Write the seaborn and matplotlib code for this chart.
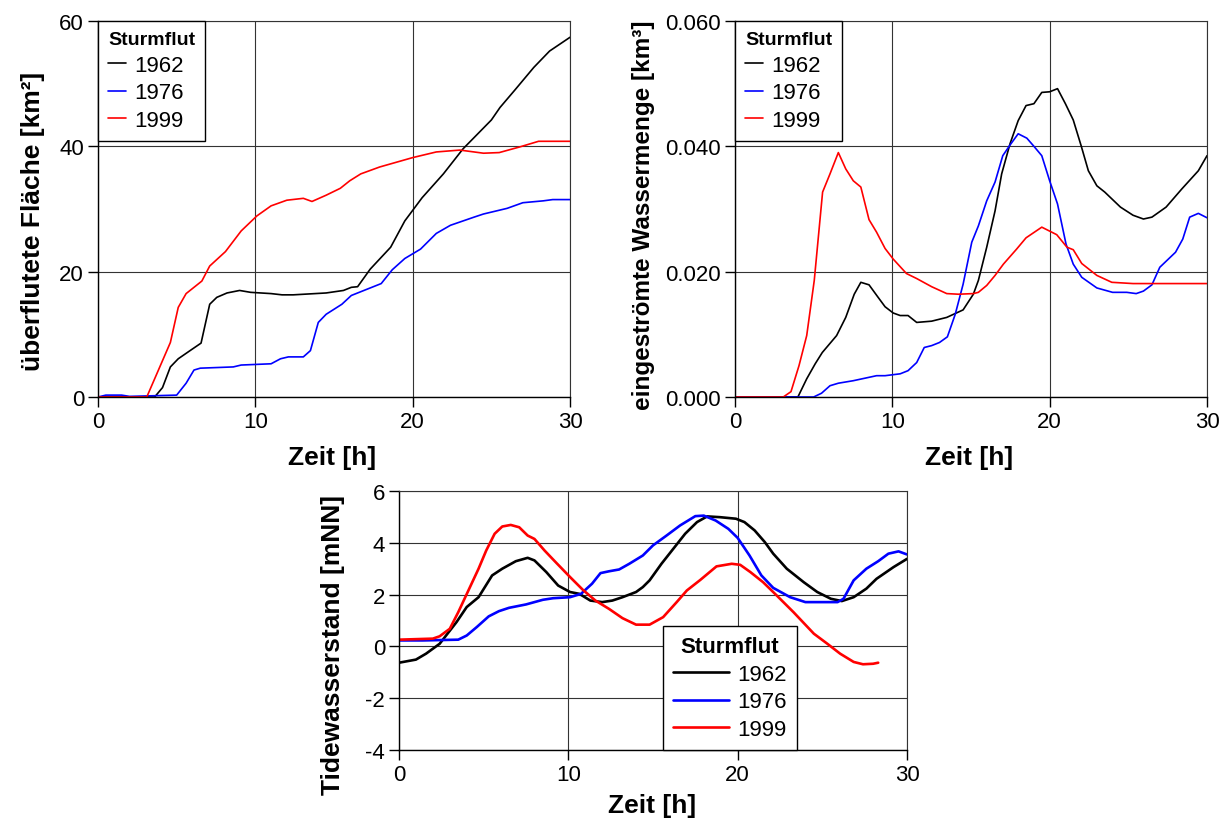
import numpy as np
import pandas as pd
import matplotlib
matplotlib.use('Agg')
import matplotlib.pyplot as plt
import seaborn as sns
from matplotlib.ticker import FormatStrFormatter

# --- data ---
years = ['1962', '1976', '1999']
colors = {'1962': 'black', '1976': '#0000ff', '1999': '#ff0000'}

# überflutete Fläche [km²]
t_fl_1962 = [0, 3.6, 4.1, 4.6, 5.1, 5.85, 6.55, 7.1, 7.55, 8.2, 9.0, 9.7, 11.0, 11.7, 12.4, 14.5,
             15.6, 16.1, 16.5, 17.3, 18.6, 19.5, 20.6, 21.95, 23.2, 25.0, 25.55, 26.5, 27.7, 28.7, 30]
v_fl_1962 = [0, 0, 1.5, 4.8, 6.1, 7.4, 8.6, 14.8, 15.9, 16.6, 17.0, 16.7, 16.5, 16.3, 16.3, 16.6,
             17.0, 17.5, 17.6, 20.4, 23.9, 28.1, 31.8, 35.6, 39.6, 44.2, 46.2, 49.0, 52.6, 55.2, 57.4]
t_fl_1976 = [0, 0.5, 1.5, 2.0, 5.0, 5.6, 6.1, 6.5, 8.6, 9.1, 11.0, 11.6, 12.1, 13.05, 13.5, 14.0,
             14.5, 15.5, 16.1, 18.0, 18.7, 19.5, 20.5, 21.5, 22.4, 23.9, 24.5, 26.0, 27.0, 28.3, 28.9, 30]
v_fl_1976 = [0, 0.3, 0.3, 0.1, 0.3, 2.2, 4.3, 4.6, 4.8, 5.1, 5.3, 6.1, 6.4, 6.4, 7.4, 11.9,
             13.2, 14.8, 16.2, 18.1, 20.3, 22.1, 23.6, 26.1, 27.4, 28.7, 29.2, 30.1, 31.0, 31.3, 31.5, 31.5]
t_fl_1999 = [0, 3.1, 4.6, 5.1, 5.6, 6.6, 7.1, 8.1, 9.1, 10.1, 11.0, 12.0, 13.05, 13.6, 14.5, 15.4,
             16.0, 16.7, 17.9, 20.0, 21.5, 23.0, 24.5, 25.5, 26.8, 28.0, 30]
v_fl_1999 = [0, 0, 8.7, 14.3, 16.5, 18.5, 20.9, 23.2, 26.5, 28.9, 30.5, 31.4, 31.7, 31.2, 32.2, 33.3,
             34.5, 35.6, 36.7, 38.2, 39.1, 39.4, 38.9, 39.0, 39.9, 40.8, 40.8]

# eingeströmte Wassermenge [km³]
t_wm_1962 = [0, 4.0, 4.56, 5.1, 5.55, 6.46, 7.04, 7.58, 8.0, 8.52, 9.07, 9.54, 10.06, 10.5, 11.0,
             11.55, 12.5, 13.46, 14.5, 15.15, 15.47, 16.0, 16.53, 16.95, 17.48, 18.0, 18.5, 19.0, 19.5,
             20.0, 20.5, 21.0, 21.5, 22.0, 22.46, 23.0, 23.5, 24.5, 25.3, 25.96, 26.5, 27.4, 28.4, 29.45, 30]
v_wm_1962 = [0, 0, 0.0029, 0.0053, 0.0071, 0.0098, 0.0127, 0.0164, 0.0183, 0.0179, 0.0160, 0.0144,
             0.0134, 0.0130, 0.0130, 0.0119, 0.0121, 0.0127, 0.0139, 0.0164, 0.0186, 0.0239, 0.0297,
             0.0356, 0.0404, 0.0441, 0.0465, 0.0468, 0.0486, 0.0487, 0.0492, 0.0468, 0.0442, 0.0401,
             0.0361, 0.0337, 0.0327, 0.0303, 0.0290, 0.0284, 0.0287, 0.0303, 0.0332, 0.0361, 0.0385]
t_wm_1976 = [0, 5.0, 5.5, 6.04, 6.57, 7.52, 9.0, 9.54, 10.5, 11.0, 11.55, 12.03, 12.5, 13.0, 13.5,
             14.0, 14.5, 15.05, 15.47, 16.0, 16.53, 17.02, 17.48, 18.0, 18.55, 19.0, 19.5, 20.0, 20.5,
             21.04, 21.5, 22.04, 23.0, 24.0, 24.9, 25.5, 25.96, 26.5, 27.0, 28.0, 28.46, 28.9, 29.45, 30]
v_wm_1976 = [0, 0, 0.0006, 0.0018, 0.0022, 0.0026, 0.0034, 0.0034, 0.0037, 0.0042, 0.0055, 0.0079,
             0.0082, 0.0087, 0.0096, 0.0132, 0.0180, 0.0247, 0.0273, 0.0313, 0.0343, 0.0385, 0.0402,
             0.0420, 0.0413, 0.0400, 0.0385, 0.0345, 0.0308, 0.0244, 0.0212, 0.0191, 0.0174, 0.0167,
             0.0167, 0.0165, 0.0169, 0.0179, 0.0207, 0.0231, 0.0252, 0.0287, 0.0293, 0.0286]
t_wm_1999 = [0, 3.07, 3.56, 4.07, 4.56, 5.04, 5.57, 6.04, 6.57, 7.04, 7.52, 8.0, 8.52, 9.0, 9.54,
             10.06, 10.9, 11.55, 12.5, 13.46, 14.2, 15.15, 15.47, 16.0, 16.53, 17.06, 17.9, 18.5, 19.5,
             20.45, 21.1, 21.5, 22.04, 23.0, 23.95, 25.3, 27.0, 30]
v_wm_1999 = [0, 0, 0.00085, 0.005, 0.0098, 0.0186, 0.0327, 0.0356, 0.0390, 0.0364, 0.0345, 0.0335,
             0.0283, 0.0263, 0.0237, 0.0220, 0.0197, 0.0189, 0.0176, 0.0165, 0.0164, 0.0165, 0.0167,
             0.0178, 0.0194, 0.0212, 0.0236, 0.0254, 0.0271, 0.0259, 0.0239, 0.0235, 0.0213, 0.0194,
             0.0183, 0.0181, 0.0181, 0.0181]

# Tidewasserstand [mNN]
t_tw_1962 = [0, 1.0, 1.6, 2.4, 3.4, 4.0, 4.7, 5.5, 6.1, 6.9, 7.6, 8.0, 8.7, 9.4, 10.1, 10.65, 11.3,
             12.0, 12.6, 13.2, 14.0, 14.4, 14.8, 15.5, 16.2, 16.9, 17.6, 18.2, 18.95, 19.9, 20.4, 21.0,
             21.6, 22.1, 22.9, 23.9, 24.7, 25.5, 26.15, 26.85, 27.6, 28.2, 29.2, 30]
v_tw_1962 = [-0.63, -0.51, -0.28, 0.1, 0.94, 1.52, 1.9, 2.74, 3.0, 3.29, 3.42, 3.32, 2.87, 2.35, 2.1,
             2.03, 1.77, 1.71, 1.77, 1.9, 2.1, 2.29, 2.55, 3.19, 3.77, 4.35, 4.8, 5.02, 4.99, 4.93, 4.8,
             4.48, 4.03, 3.58, 3.0, 2.48, 2.1, 1.84, 1.75, 1.9, 2.23, 2.61, 3.06, 3.38]
t_tw_1976 = [0, 1.4, 3.5, 4.0, 4.6, 5.3, 5.9, 6.5, 7.5, 8.5, 9.1, 10.1, 10.75, 11.4, 11.9, 12.4, 13.0,
             13.6, 14.4, 15.0, 15.8, 16.6, 17.5, 18.0, 18.7, 19.45, 20.0, 20.7, 21.4, 22.1, 23.1, 24.0,
             24.9, 25.9, 26.25, 26.85, 27.6, 28.3, 28.9, 29.5, 30]
v_tw_1976 = [0.23, 0.23, 0.26, 0.42, 0.75, 1.16, 1.36, 1.49, 1.62, 1.8, 1.86, 1.9, 2.03, 2.42, 2.83,
             2.9, 2.97, 3.19, 3.51, 3.9, 4.28, 4.67, 5.03, 5.05, 4.86, 4.54, 4.19, 3.51, 2.74, 2.26, 1.9,
             1.71, 1.71, 1.71, 1.84, 2.55, 3.0, 3.29, 3.58, 3.67, 3.55]
t_tw_1999 = [0, 2.0, 2.4, 3.0, 3.5, 4.1, 4.7, 5.15, 5.65, 6.1, 6.6, 7.1, 7.6, 8.0, 8.6, 9.3, 10.1,
             10.85, 11.6, 12.4, 13.2, 14.0, 14.8, 15.6, 16.4, 17.0, 17.8, 18.75, 19.65, 20.15, 20.75,
             21.5, 22.3, 23.3, 24.5, 25.3, 26.05, 26.85, 27.4, 28.0, 28.3]
v_tw_1999 = [0.26, 0.3, 0.39, 0.68, 1.32, 2.16, 3.0, 3.7, 4.35, 4.63, 4.69, 4.6, 4.28, 4.15, 3.7,
             3.22, 2.68, 2.19, 1.77, 1.45, 1.09, 0.84, 0.84, 1.13, 1.71, 2.16, 2.57, 3.09, 3.19, 3.15,
             2.87, 2.48, 1.97, 1.32, 0.49, 0.1, -0.28, -0.6, -0.69, -0.67, -0.63]


def long_frame(series):
    rows = []
    for year, (t, v) in zip(years, series):
        rows.append(pd.DataFrame({'Zeit': t, 'Wert': v, 'Sturmflut': year}))
    return pd.concat(rows, ignore_index=True)


sns.set_style('ticks')
plt.rcParams['font.family'] = ['Liberation Sans', 'DejaVu Sans']
plt.rcParams['axes.unicode_minus'] = False
plt.rcParams['text.color'] = 'black'
plt.rcParams['axes.labelcolor'] = 'black'
plt.rcParams['xtick.color'] = 'black'
plt.rcParams['ytick.color'] = 'black'

fig = plt.figure(figsize=(12.28, 8.29), dpi=100)
ax1 = fig.add_axes([0.0798, 0.5199, 0.3844, 0.4536])
ax2 = fig.add_axes([0.5985, 0.5199, 0.3844, 0.4536])
ax3 = fig.add_axes([0.3249, 0.0941, 0.4137, 0.3124])

panels = [
    (ax1, long_frame([(t_fl_1962, v_fl_1962), (t_fl_1976, v_fl_1976), (t_fl_1999, v_fl_1999)]),
     'überflutete Fläche [km²]', [0, 20, 40, 60], 1.2, 19),
    (ax2, long_frame([(t_wm_1962, v_wm_1962), (t_wm_1976, v_wm_1976), (t_wm_1999, v_wm_1999)]),
     'eingeströmte Wassermenge [km³]', [0, 0.02, 0.04, 0.06], 1.2, 17.5),
    (ax3, long_frame([(t_tw_1962, v_tw_1962), (t_tw_1976, v_tw_1976), (t_tw_1999, v_tw_1999)]),
     'Tidewasserstand [mNN]', [-4, -2, 0, 2, 4, 6], 1.9, 19),
]

for ax, df, ylabel, yticks, lw, ysize in panels:
    sns.lineplot(data=df, x='Zeit', y='Wert', hue='Sturmflut', palette=colors,
                 estimator=None, sort=False, linewidth=lw, ax=ax)
    ax.set_xlim(0, 30)
    ax.set_ylim(yticks[0], yticks[-1])
    ax.set_xticks([0, 10, 20, 30])
    ax.set_yticks(yticks)
    ax.grid(True, color='#333333', linewidth=0.8)
    ax.set_axisbelow(True)
    for side in ['top', 'right']:
        ax.spines[side].set_color('#333333')
        ax.spines[side].set_linewidth(0.8)
    for side in ['left', 'bottom']:
        ax.spines[side].set_color('black')
        ax.spines[side].set_linewidth(1.0)
    ax.tick_params(direction='out', length=7, width=1.0, color='black', labelsize=16, pad=3)
    ax.set_xlabel('Zeit [h]', fontsize=19, fontweight='bold')
    ax.set_ylabel(ylabel, fontsize=ysize, fontweight='bold')

ax2.yaxis.set_major_formatter(FormatStrFormatter('%.3f'))

# label placement (axes fractions; y labels anchored at their right edge)
ax1.xaxis.set_label_coords(0.496, -0.128)
ax2.xaxis.set_label_coords(0.496, -0.128)
ax3.xaxis.set_label_coords(0.498, -0.165)
ax1.yaxis.set_label_coords(-0.113, 0.47)
ax2.yaxis.set_label_coords(-0.17, 0.487)
ax3.yaxis.set_label_coords(-0.106, 0.41)

for ax in [ax1, ax2]:
    leg = ax.legend(title='Sturmflut', loc='upper left', bbox_to_anchor=(0, 1), borderaxespad=0,
                    fancybox=False, edgecolor='black', framealpha=1, fontsize=16,
                    title_fontsize=14, handlelength=0.8, handletextpad=0.4, labelspacing=0.3,
                    borderpad=0.45)
    leg.get_title().set_fontweight('bold')
    leg._legend_box.align = 'left'
    leg.get_frame().set_linewidth(1.0)

leg = ax3.legend(title='Sturmflut', loc='lower left', bbox_to_anchor=(0.52, 0), borderaxespad=0,
                 fancybox=False, edgecolor='black', framealpha=1, fontsize=16,
                 title_fontsize=16, handlelength=2.5, handletextpad=0.4, labelspacing=0.3,
                 borderpad=0.45)
leg.get_title().set_fontweight('bold')
leg.get_frame().set_linewidth(1.0)

fig.savefig('out.png', dpi=100)
plt.close(fig)
